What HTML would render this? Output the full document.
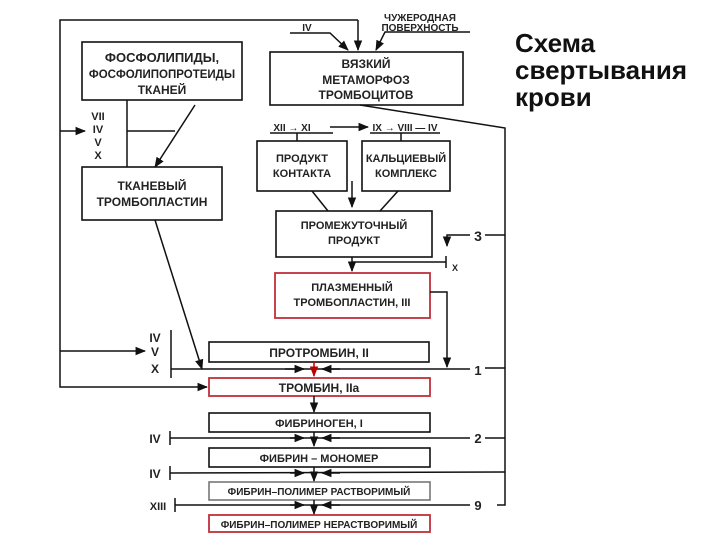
<!DOCTYPE html>
<html><head><meta charset="utf-8"><style>
html,body{margin:0;padding:0;background:#fff;width:720px;height:540px;overflow:hidden}
svg text{font-family:"Liberation Sans",sans-serif;font-weight:bold;fill:#222}
</style></head><body>
<svg width="720" height="540" viewBox="0 0 720 540" xmlns="http://www.w3.org/2000/svg">
<defs><marker id="a" viewBox="0 0 10 10" refX="9" refY="5" markerWidth="7" markerHeight="7" orient="auto"><path d="M0,1 L10,5 L0,9 z" fill="#111"/></marker>
<marker id="r" viewBox="0 0 10 10" refX="9" refY="5" markerWidth="7" markerHeight="7" orient="auto"><path d="M0,1 L10,5 L0,9 z" fill="#b00"/></marker></defs>
<g stroke="#111" stroke-width="1.6" fill="none">
<rect x="82" y="42" width="160" height="58"/>
<rect x="270" y="52" width="193" height="53"/>
<rect x="82" y="167" width="140" height="53"/>
<rect x="257" y="141" width="90" height="50"/>
<rect x="362" y="141" width="88" height="50"/>
<rect x="276" y="211" width="156" height="46"/>
<rect x="209" y="342" width="220" height="20"/>
<rect x="209" y="413" width="221" height="19"/>
<rect x="209" y="448" width="221" height="19"/>
<rect x="209" y="482" width="221" height="18" stroke="#777"/>
</g>
<g stroke="#c0303a" stroke-width="1.8" fill="none">
<rect x="275" y="273" width="155" height="45"/>
<rect x="209" y="378" width="221" height="18"/>
<rect x="209" y="515" width="221" height="17"/>
</g>
<g stroke="#111" stroke-width="1.5" fill="none">
<polyline points="358,20 60,20 60,387 207,387" marker-end="url(#a)"/>
<line x1="358" y1="20" x2="358" y2="50" marker-end="url(#a)"/>
<polyline points="290,33 330,33 348,50" marker-end="url(#a)"/>
<polyline points="470,32 385,32 376,50" marker-end="url(#a)"/>
<polyline points="360,105 505,128 505,505 497,505"/>
<line x1="127" y1="100" x2="127" y2="167"/>
<line x1="127" y1="131" x2="175" y2="131"/>
<line x1="60" y1="131" x2="85" y2="131" marker-end="url(#a)"/>
<line x1="195" y1="105" x2="155" y2="167" marker-end="url(#a)"/>
<line x1="270" y1="133" x2="333" y2="133"/>
<line x1="330" y1="127" x2="368" y2="127" marker-end="url(#a)"/>
<line x1="370" y1="133" x2="440" y2="133"/>
<line x1="297" y1="133" x2="297" y2="141"/>
<line x1="401" y1="133" x2="401" y2="141"/>
<line x1="352" y1="181" x2="352" y2="207" marker-end="url(#a)"/>
<line x1="312" y1="191" x2="328" y2="211"/>
<line x1="398" y1="191" x2="380" y2="211"/>
<polyline points="505,235 485,235"/>
<polyline points="470,235 447,235 447,246" marker-end="url(#a)"/>
<line x1="352" y1="257" x2="352" y2="271" marker-end="url(#a)"/>
<line x1="352" y1="262" x2="446" y2="262"/>
<line x1="446" y1="256" x2="446" y2="268"/>
<polyline points="430,292 447,292 447,367" marker-end="url(#a)"/>
<line x1="60" y1="351" x2="145" y2="351" marker-end="url(#a)"/>
<line x1="171" y1="330" x2="171" y2="378"/>
<line x1="155" y1="220" x2="202" y2="369" marker-end="url(#a)"/>
<line x1="171" y1="369" x2="470" y2="369"/>
<line x1="285" y1="369" x2="304" y2="369" marker-end="url(#a)"/>
<line x1="340" y1="369" x2="322" y2="369" marker-end="url(#a)"/>
<line x1="485" y1="368" x2="505" y2="368"/>
<line x1="314" y1="396" x2="314" y2="412" marker-end="url(#a)"/>
<line x1="314" y1="432" x2="314" y2="446" marker-end="url(#a)"/>
<line x1="314" y1="467" x2="314" y2="481" marker-end="url(#a)"/>
<line x1="314" y1="500" x2="314" y2="514" marker-end="url(#a)"/>
<line x1="170" y1="431" x2="170" y2="445"/>
<line x1="170" y1="438" x2="470" y2="438"/>
<line x1="290" y1="438" x2="304" y2="438" marker-end="url(#a)"/>
<line x1="340" y1="438" x2="322" y2="438" marker-end="url(#a)"/>
<line x1="485" y1="438" x2="505" y2="438"/>
<line x1="170" y1="466" x2="170" y2="480"/>
<line x1="170" y1="473" x2="505" y2="472"/>
<line x1="290" y1="473" x2="304" y2="473" marker-end="url(#a)"/>
<line x1="340" y1="473" x2="322" y2="473" marker-end="url(#a)"/>
<line x1="175" y1="498" x2="175" y2="512"/>
<line x1="175" y1="505" x2="470" y2="505"/>
<line x1="290" y1="505" x2="304" y2="505" marker-end="url(#a)"/>
<line x1="340" y1="505" x2="322" y2="505" marker-end="url(#a)"/>
</g>
<line x1="314" y1="362" x2="314" y2="376" stroke="#b00" stroke-width="1.5" marker-end="url(#r)"/>
<g font-size="12" text-anchor="middle">
<text x="162" y="62" font-size="13">ФОСФОЛИПИДЫ,</text>
<text x="162" y="78" font-size="11.5">ФОСФОЛИПОПРОТЕИДЫ</text>
<text x="162" y="94" font-size="12">ТКАНЕЙ</text>
<text x="366" y="68">ВЯЗКИЙ</text>
<text x="366" y="84">МЕТАМОРФОЗ</text>
<text x="366" y="99">ТРОМБОЦИТОВ</text>
<text x="420" y="21" font-size="10">ЧУЖЕРОДНАЯ</text>
<text x="420" y="31" font-size="10">ПОВЕРХНОСТЬ</text>
<text x="307" y="31" font-size="10">IV</text>
<text x="152" y="190">ТКАНЕВЫЙ</text>
<text x="152" y="206">ТРОМБОПЛАСТИН</text>
<text x="302" y="162" font-size="11">ПРОДУКТ</text>
<text x="302" y="177" font-size="11">КОНТАКТА</text>
<text x="406" y="162" font-size="11">КАЛЬЦИЕВЫЙ</text>
<text x="406" y="177" font-size="11">КОМПЛЕКС</text>
<text x="354" y="229" font-size="11">ПРОМЕЖУТОЧНЫЙ</text>
<text x="354" y="244" font-size="11">ПРОДУКТ</text>
<text x="352" y="291" font-size="11">ПЛАЗМЕННЫЙ</text>
<text x="352" y="306" font-size="11">ТРОМБОПЛАСТИН, III</text>
<text x="319" y="357" font-size="12">ПРОТРОМБИН, II</text>
<text x="319" y="392" font-size="12">ТРОМБИН, IIa</text>
<text x="319" y="427" font-size="11">ФИБРИНОГЕН, I</text>
<text x="319" y="462" font-size="11">ФИБРИН – МОНОМЕР</text>
<text x="319" y="495" font-size="10">ФИБРИН–ПОЛИМЕР РАСТВОРИМЫЙ</text>
<text x="319" y="528" font-size="10">ФИБРИН–ПОЛИМЕР НЕРАСТВОРИМЫЙ</text>
<text x="98" y="120" font-size="11">VII</text>
<text x="98" y="133" font-size="11">IV</text>
<text x="98" y="146" font-size="11">V</text>
<text x="98" y="159" font-size="11">X</text>
<text x="155" y="342" font-size="12">IV</text>
<text x="155" y="356" font-size="12">V</text>
<text x="155" y="373" font-size="12">X</text>
<text x="292" y="131" font-size="10">XII → XI</text>
<text x="405" y="131" font-size="10">IX → VIII — IV</text>
<text x="478" y="241" font-size="14" font-weight="normal">3</text>
<text x="455" y="271" font-size="9">X</text>
<text x="478" y="375" font-size="13">1</text>
<text x="478" y="443" font-size="13">2</text>
<text x="478" y="510" font-size="13">9</text>
<text x="155" y="443" font-size="12">IV</text>
<text x="155" y="478" font-size="12">IV</text>
<text x="158" y="510" font-size="11">XIII</text>
</g>
<g font-size="26" font-weight="bold">
<text x="515" y="52" style="fill:#111">Схема</text>
<text x="515" y="79" style="fill:#111">свертывания</text>
<text x="515" y="106" style="fill:#111">крови</text>
</g>
</svg>
</body></html>
